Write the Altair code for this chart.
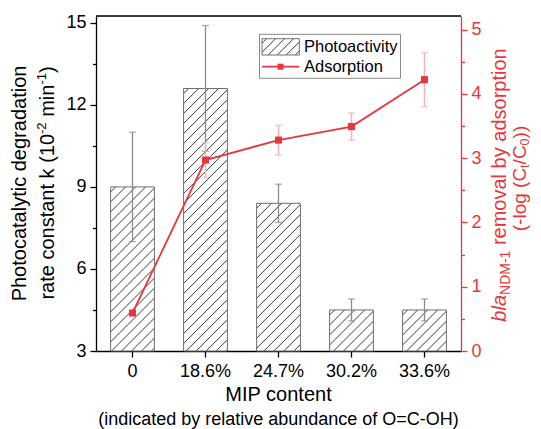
import altair as alt
import pandas as pd

# ---------------- data ----------------
categories = ["0", "18.6%", "24.7%", "30.2%", "33.6%"]
photo = [9.0, 12.6, 8.4, 4.5, 4.5]
photo_err = [2.0, 2.3, 0.7, 0.4, 0.4]
ads = [0.59, 2.97, 3.28, 3.49, 4.22]
ads_err = [0.03, 0.27, 0.23, 0.21, 0.42]

left_ticks = [3, 4.5, 6, 7.5, 9, 10.5, 12, 13.5, 15]
right_ticks = [0, 0.5, 1, 1.5, 2, 2.5, 3, 3.5, 4, 4.5, 5]
LEFT_DOMAIN = [3, 15.25]
RIGHT_DOMAIN = [0, 5.21]

df = pd.DataFrame({
    "cat": categories,
    "photo": photo,
    "base": [LEFT_DOMAIN[0]] * len(categories),
    "plo": [p - e for p, e in zip(photo, photo_err)],
    "phi": [p + e for p, e in zip(photo, photo_err)],
    "ads": ads,
    "alo": [a - e for a, e in zip(ads, ads_err)],
    "ahi": [a + e for a, e in zip(ads, ads_err)],
})
one = pd.DataFrame({"k": [0]})

# ---------------- style ----------------
FONT = "Liberation Sans"
RED = "#E8363C"
RED_LIGHT = "#F2B3B3"
GRAY_ERR = "#8a8a8a"
BAR_STROKE = "#6e6e6e"
HATCH = "#4a4a4a"
W, H = 365, 335
X0, Y0 = 96, 16  # page position of plot origin

ARIAL = {" ": 278, "(": 333, ")": 333, "-": 333, "/": 278, ".": 278, "%": 889,
         "=": 584, "A": 667, "C": 722, "D": 722, "H": 722, "I": 278, "M": 833,
         "N": 722, "O": 778, "P": 667, "a": 556, "b": 556, "c": 500, "d": 556,
         "e": 556, "f": 278, "g": 556, "h": 556, "i": 222, "k": 500, "l": 222,
         "m": 833, "n": 556, "o": 556, "p": 556, "r": 333, "s": 500, "t": 278,
         "u": 556, "v": 500, "y": 500}


def tw(s, size):
    return sum(ARIAL.get(ch, 556) for ch in s) / 1000.0 * size


def hatch(wd, ht, period=10.0, half=1.1, color=HATCH):
    L = wd + ht
    S = wd * wd + ht * ht
    stops = [{"offset": 0, "color": "#ffffff"}]
    c = period / 2
    while c + half < L:
        stops += [
            {"offset": round((c - half) / L, 5), "color": "#ffffff"},
            {"offset": round(c / L, 5), "color": color},
            {"offset": round((c + half) / L, 5), "color": "#ffffff"},
        ]
        c += period
    stops.append({"offset": 1, "color": "#ffffff"})
    return {"gradient": "linear", "x1": 0, "y1": 0,
            "x2": round(wd * L / S, 5), "y2": round(ht * L / S, 5), "stops": stops}


def rot_text(pieces, cx, cy, main=20):
    """pieces: (text, size, shift, italic, color); shift>0 = subscript."""
    total = sum(tw(p[0], p[1]) for p in pieces)
    y = cy + total / 2
    out = []
    for t, s, shift, italic, color in pieces:
        lead = t[: len(t) - len(t.lstrip(" "))]
        y_start = y - tw(lead, s)
        out.append(
            alt.Chart(one).mark_text(
                text=t.strip(" "), angle=270, align="left", baseline="alphabetic",
                font=FONT, fontSize=s, fontStyle="italic" if italic else "normal",
                color=color,
            ).encode(x=alt.value(cx + 0.36 * main + shift - X0), y=alt.value(y_start - Y0))
        )
        y -= tw(t, s)
    return out


# ---------------- scales / encodings ----------------
step = W / len(categories)
bandwidth = step * 0.6

X = alt.X("cat:N", sort=categories,
          scale=alt.Scale(paddingInner=0.4, paddingOuter=0.2),
          axis=alt.Axis(title=None, labelAngle=0, labelFontSize=18, labelFont=FONT,
                        labelColor="black", tickSize=6, tickColor="black",
                        domainColor="black", domainWidth=1.3, tickWidth=1.3,
                        labelPadding=5))

left_scale = alt.Scale(domain=LEFT_DOMAIN, zero=False, nice=False)
right_scale = alt.Scale(domain=RIGHT_DOMAIN, zero=False, nice=False)

left_axis = alt.Axis(
    title=None, values=left_ticks, grid=False,
    labelExpr="datum.value % 3 === 0 ? format(datum.value, 'd') : ''",
    tickSize={"condition": {"test": "datum.value % 3 === 0", "value": 6}, "value": 3.5},
    labelFontSize=18, labelFont=FONT, labelColor="black", tickColor="black",
    domainColor="black", domainWidth=1.3, tickWidth=1.3, labelPadding=4)

right_axis = alt.Axis(
    title=None, orient="right", values=right_ticks, grid=False,
    labelExpr="datum.value % 1 === 0 ? format(datum.value, 'd') : ''",
    tickSize={"condition": {"test": "datum.value % 1 === 0", "value": 6}, "value": 3.5},
    labelFontSize=18, labelFont=FONT, labelColor=RED, tickColor=RED,
    domainColor=RED, domainWidth=1.3, tickWidth=1.3, labelPadding=4)

YL = lambda f: alt.Y(f"{f}:Q", scale=left_scale, axis=left_axis)
YR = lambda f: alt.Y(f"{f}:Q", scale=right_scale, axis=right_axis)

# ---------------- left group ----------------
left_layers = []
for i, cat in enumerate(categories):
    hpx = (photo[i] - LEFT_DOMAIN[0]) / (LEFT_DOMAIN[1] - LEFT_DOMAIN[0]) * H
    left_layers.append(
        alt.Chart(df).transform_filter(alt.datum.cat == cat)
        .mark_bar(fill=hatch(bandwidth, hpx), stroke=BAR_STROKE, strokeWidth=1)
        .encode(x=X, y=YL("photo"), y2="base:Q")
    )

left_layers.append(
    alt.Chart(df).mark_rule(color=GRAY_ERR, strokeWidth=1.3)
    .encode(x=X, y=YL("plo"), y2="phi:Q"))
for f in ["plo", "phi"]:
    left_layers.append(
        alt.Chart(df).mark_tick(color=GRAY_ERR, thickness=1.3, size=7, orient="horizontal")
        .encode(x=X, y=YL(f)))

# top frame
left_layers.append(
    alt.Chart(one).mark_rule(color="black", strokeWidth=1.3)
    .encode(x=alt.value(0), x2=alt.value(W), y=alt.value(0)))

# legend
LX0, LY0 = 259.5 - X0, 34.3 - Y0
left_layers += [
    alt.Chart(one).mark_rect(fill="white", stroke="#8a8a8a", strokeWidth=1)
    .encode(x=alt.value(LX0), x2=alt.value(400.5 - X0), y=alt.value(LY0), y2=alt.value(78.3 - Y0)),
    alt.Chart(one).mark_rect(fill=hatch(37.3, 16.3, period=9.0), stroke=BAR_STROKE, strokeWidth=1)
    .encode(x=alt.value(262 - X0), x2=alt.value(299.3 - X0), y=alt.value(38.7 - Y0), y2=alt.value(55 - Y0)),
    alt.Chart(one).mark_text(text="Photoactivity", align="left", baseline="middle",
                             font=FONT, fontSize=16.5, color="black")
    .encode(x=alt.value(304 - X0), y=alt.value(46.5 - Y0)),
    alt.Chart(one).mark_rule(color=RED, strokeWidth=1.8)
    .encode(x=alt.value(262 - X0), x2=alt.value(299.3 - X0), y=alt.value(66.7 - Y0)),
    alt.Chart(one).mark_point(shape="square", filled=True, size=36, color=RED, opacity=1)
    .encode(x=alt.value(280.5 - X0), y=alt.value(66.7 - Y0)),
    alt.Chart(one).mark_text(text="Adsorption", align="left", baseline="middle",
                             font=FONT, fontSize=16.5, color="black")
    .encode(x=alt.value(304 - X0), y=alt.value(66.7 - Y0)),
]

# axis titles
left_layers += rot_text([("Photocatalytic degradation", 20, 0, False, "black")], 18.3, 183.5)
left_layers += rot_text([("rate constant k (10", 20, 0, False, "black"),
                         ("-2", 13, -8, False, "black"),
                         (" min", 20, 0, False, "black"),
                         ("-1", 13, -8, False, "black"),
                         (")", 20, 0, False, "black")], 46.7, 183.0)
left_layers += rot_text([("bla", 20, 0, True, RED),
                         ("NDM-1", 14, 4.5, False, RED),
                         (" removal by adsorption", 20, 0, False, RED)], 498.5, 185.0)
left_layers += rot_text([("(-log (C", 19, 0, False, RED),
                         ("t", 12.5, 3.0, False, RED),
                         ("/C", 19, 0, False, RED),
                         ("0", 12.5, 3.0, False, RED),
                         ("))", 19, 0, False, RED)], 519.0, 178.5, main=19)

left_layers += [
    alt.Chart(one).mark_text(text="MIP content", align="center", baseline="middle",
                             font=FONT, fontSize=20, color="black")
    .encode(x=alt.value(W / 2), y=alt.value(395 - Y0)),
    alt.Chart(one).mark_text(text="(indicated by relative abundance of O=C-OH)", align="center",
                             baseline="middle", font=FONT, fontSize=18, color="black")
    .encode(x=alt.value(W / 2), y=alt.value(419.5 - Y0)),
]

left = alt.layer(*left_layers)

# ---------------- right group ----------------
right = alt.layer(
    alt.Chart(df).mark_rule(color=RED_LIGHT, strokeWidth=1.5)
    .encode(x=X, y=YR("alo"), y2="ahi:Q"),
    alt.Chart(df).mark_tick(color=RED_LIGHT, thickness=1.5, size=7, orient="horizontal")
    .encode(x=X, y=YR("alo")),
    alt.Chart(df).mark_tick(color=RED_LIGHT, thickness=1.5, size=7, orient="horizontal")
    .encode(x=X, y=YR("ahi")),
    alt.Chart(df).mark_line(color=RED, strokeWidth=1.8)
    .encode(x=X, y=YR("ads")),
    alt.Chart(df).mark_point(shape="square", filled=True, size=50, color=RED, opacity=1)
    .encode(x=X, y=YR("ads")),
)

chart = (
    alt.layer(left, right)
    .resolve_scale(y="independent")
    .properties(width=W, height=H,
                padding={"left": X0 - 8, "top": Y0 - 8, "right": 541 - 8 - (X0 + W), "bottom": 78},
                autosize=alt.AutoSizeParams(type="none"))
    .configure_view(stroke=None)
    .configure(font=FONT)
)

chart.save("out.html", embed_options={"renderer": "svg", "actions": False})
